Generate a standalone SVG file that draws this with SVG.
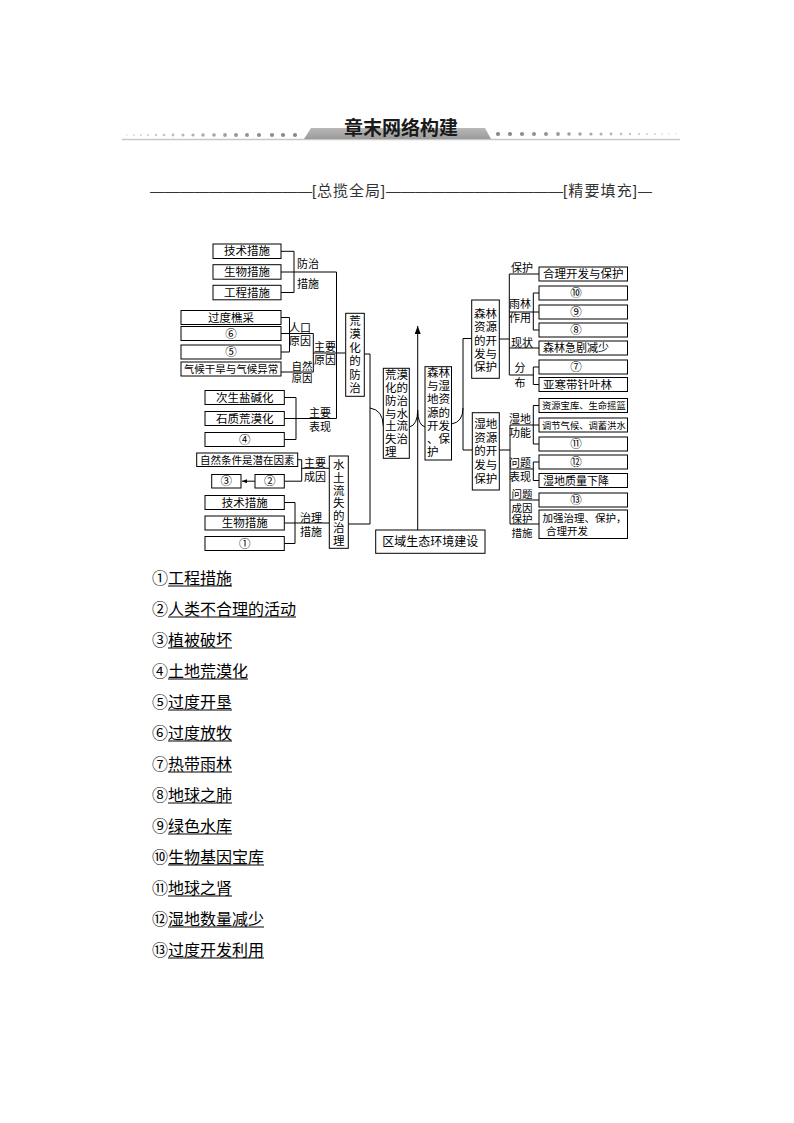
<svg xmlns="http://www.w3.org/2000/svg" width="794" height="1123" viewBox="0 0 794 1123">
<style>
.b{fill:#fff;stroke:#000;stroke-width:1}
.l{fill:none;stroke:#000;stroke-width:1}
.t{font-family:"Noto Sans CJK SC",sans-serif;font-size:11.5px;fill:#000}
.s{font-size:11px}
.k{font-size:10.5px}
.z{font-size:9.3px}
.m{text-anchor:middle}
.v{writing-mode:vertical-rl}
.a{font-family:"Noto Sans CJK SC",sans-serif;font-size:16px;fill:#000}
.u{stroke:#000;stroke-width:1}
</style>
<defs>
<linearGradient id="tab" x1="0" y1="0" x2="0" y2="1">
<stop offset="0" stop-color="#b8b8b8"/><stop offset="1" stop-color="#9a9a9a"/>
</linearGradient>
<marker id="ar" markerWidth="8" markerHeight="6" refX="8" refY="3" orient="auto" markerUnits="userSpaceOnUse"><path d="M0,0 L8,3 L0,6 z" fill="#000"/></marker>
<marker id="ar2" markerWidth="5" markerHeight="4" refX="5" refY="2" orient="auto" markerUnits="userSpaceOnUse"><path d="M0,0 L5,2 L0,4 z" fill="#000"/></marker>
</defs>
<rect width="794" height="1123" fill="#fff"/>

<g id="header">
<line x1="122" y1="139.5" x2="680" y2="139.5" stroke="#c8c8c8" stroke-width="1.5"/>
<polygon points="304,139 311,128 485,128 491,139" fill="url(#tab)"/>
<g>
<circle cx="127" cy="135" r="0.8" fill="#d8d8d8"/><circle cx="134" cy="135" r="0.9" fill="#d4d4d4"/><circle cx="141" cy="135" r="1" fill="#d0d0d0"/><circle cx="148" cy="135" r="1.1" fill="#cccccc"/><circle cx="156" cy="135" r="1.2" fill="#c8c8c8"/><circle cx="164" cy="135" r="1.3" fill="#c4c4c4"/><circle cx="173" cy="135" r="1.4" fill="#bdbdbd"/><circle cx="183" cy="135" r="1.5" fill="#b6b6b6"/><circle cx="193" cy="135" r="1.6" fill="#b0b0b0"/><circle cx="203" cy="135" r="1.7" fill="#aaaaaa"/><circle cx="214" cy="135" r="1.8" fill="#a4a4a4"/><circle cx="225" cy="135" r="1.9" fill="#9e9e9e"/><circle cx="236" cy="135" r="2" fill="#999"/><circle cx="247" cy="135" r="2" fill="#959595"/><circle cx="259" cy="135" r="2.1" fill="#919191"/><circle cx="272" cy="135" r="2.1" fill="#8d8d8d"/><circle cx="283" cy="135" r="2.1" fill="#8a8a8a"/><circle cx="295" cy="135" r="2.1" fill="#888"/>
<circle cx="498" cy="134" r="2.1" fill="#888"/><circle cx="510" cy="134" r="2.1" fill="#8a8a8a"/><circle cx="522" cy="134" r="2.1" fill="#8d8d8d"/><circle cx="534" cy="134" r="2" fill="#919191"/><circle cx="546" cy="134" r="2" fill="#959595"/><circle cx="558" cy="134" r="1.9" fill="#999"/><circle cx="569" cy="134" r="1.8" fill="#9e9e9e"/><circle cx="580" cy="134" r="1.7" fill="#a4a4a4"/><circle cx="591" cy="134" r="1.6" fill="#aaaaaa"/><circle cx="601" cy="134" r="1.5" fill="#b0b0b0"/><circle cx="611" cy="134" r="1.4" fill="#b6b6b6"/><circle cx="621" cy="134" r="1.3" fill="#bdbdbd"/><circle cx="630" cy="134" r="1.2" fill="#c4c4c4"/><circle cx="639" cy="134" r="1.1" fill="#c8c8c8"/><circle cx="647" cy="134" r="1" fill="#cccccc"/><circle cx="655" cy="134" r="0.9" fill="#d0d0d0"/><circle cx="662" cy="134" r="0.8" fill="#d4d4d4"/><circle cx="669" cy="134" r="0.8" fill="#d8d8d8"/><circle cx="676" cy="134" r="0.7" fill="#dcdcdc"/>
</g>
<text x="401" y="135" text-anchor="middle" font-family="Noto Sans CJK SC, sans-serif" font-size="19" font-weight="bold" fill="#1a1a1a">章末网络构建</text>
</g>

<g id="subtitle" font-family="Liberation Sans, Noto Sans CJK SC, sans-serif" font-size="15" fill="#333">
<text x="150" y="196" textLength="162" lengthAdjust="spacingAndGlyphs">———————————</text>
<text x="312" y="196" textLength="73">[总揽全局]</text>
<text x="386" y="196" textLength="177" lengthAdjust="spacingAndGlyphs">————————————</text>
<text x="563" y="196" textLength="74">[精要填充]</text>
<text x="638" y="196" textLength="14" lengthAdjust="spacingAndGlyphs">—</text>
</g>

<g id="connectors">
<path class="l" d="M281,251.3 H294 V292.5 H281 M281,272 H336.5 M336.5,272 V418.5"/>
<path class="l" d="M281,317.5 H289.5 V352 H281 M281,333.5 H313.3 M281,372 H313.3 M313.3,333.5 V372 M313.3,353 H345.7"/>
<path class="l" d="M284.3,397.5 H296 V439.5 H284.3 M284.3,418.5 H336.5"/>
<path class="l" d="M297.7,459.7 H301.7 V481.2 H284.3 M301.7,468.3 H329.3"/>
<path class="l" d="M255,481.2 H242" marker-end="url(#ar2)"/>
<path class="l" d="M284.3,502.5 H295 V543.5 H284.3 M284.3,523 H329.3"/>
<path class="l" d="M364.3,354 H370 V524 H348.3 M370,408 Q383,410 383.3,426"/>
<path class="l" d="M417.7,530 V326" marker-end="url(#ar)"/>
<path class="l" d="M409.3,427 Q417.7,425 417.7,410 M425,427 Q417.7,425 417.7,410"/>
<path class="l" d="M451.5,424 Q463,422 463,408 M472,338.5 H463 V450 H472"/>
<path class="l" d="M499.3,339 H509.3 M509.3,274 V375 M509.3,274 H539 M509.3,312 H539 M539,293 H533.3 V330 H539 M509.3,348 H539 M509.3,375 H533.3 M539,367 H533.3 V384.5 H539"/>
<path class="l" d="M499.3,450 H510 M510,425 V524 M510,425 H539 M539,405.5 H533.3 V444 H539 M510,469 H533.3 M539,462 H533.3 V480.5 H539 M510,500 H539 M510,524 H539"/>
<g class="t s m">
<text x="308" y="268">防治<tspan x="308" y="288">措施</tspan></text>
<text x="300" y="332">人口<tspan x="300" y="345">原因</tspan></text>
<text x="302" y="369.5" class="k">自然<tspan x="302" y="382">原因</tspan></text>
<text x="325" y="351">主要<tspan x="325" y="364">原因</tspan></text>
<text x="320" y="416.5">主要<tspan x="320" y="431">表现</tspan></text>
<text x="315" y="466.5">主要<tspan x="315" y="480.5">成因</tspan></text>
<text x="311" y="521.5">治理<tspan x="311" y="536">措施</tspan></text>
<text x="522" y="271.5">保护</text>
<text x="520" y="308">雨林<tspan x="520" y="321.5">作用</tspan></text>
<text x="522" y="346.5">现状</text>
<text class="v" x="520" y="362" style="text-anchor:start;letter-spacing:4px">分布</text>
<text x="520" y="423">湿地<tspan x="520" y="437">功能</tspan></text>
<text x="520" y="466.5">问题<tspan x="520" y="481">表现</tspan></text>
<text x="522" y="498" class="k">问题<tspan x="522" y="512">成因</tspan><tspan x="522" y="522.5">保护</tspan><tspan x="522" y="537">措施</tspan></text>
</g>
</g>

<g id="n_js1"><rect class="b" x="213" y="244" width="68" height="14.5"/><text class="t m" x="247" y="255.3">技术措施</text></g>
<g id="n_sw1"><rect class="b" x="213" y="264.7" width="68" height="14.5"/><text class="t m" x="247" y="276">生物措施</text></g>
<g id="n_gc1"><rect class="b" x="213" y="285.3" width="68" height="14.5"/><text class="t m" x="247" y="296.5">工程措施</text></g>
<g id="n_gdqc"><rect class="b" x="181" y="310.5" width="100" height="14"/><text class="t m" x="231" y="321.5">过度樵采</text></g>
<g id="n_6"><rect class="b" x="181" y="326.5" width="100" height="14"/><text class="t m" x="231" y="337.5">⑥</text></g>
<g id="n_5"><rect class="b" x="181" y="345" width="100" height="14"/><text class="t m" x="231" y="356">⑤</text></g>
<g id="n_qh"><rect class="b" x="181" y="362" width="100" height="14"/><text class="t m k" x="231" y="372.8">气候干旱与气候异常</text></g>
<g id="n_cs"><rect class="b" x="205" y="390.5" width="79.3" height="14"/><text class="t m" x="244.7" y="401.5">次生盐碱化</text></g>
<g id="n_sz"><rect class="b" x="205" y="411.5" width="79.3" height="14"/><text class="t m" x="244.7" y="422.5">石质荒漠化</text></g>
<g id="n_4"><rect class="b" x="205" y="432.5" width="79.3" height="14"/><text class="t m" x="244.7" y="443.5">④</text></g>
<g id="n_zr"><rect class="b" x="196.7" y="453" width="101" height="13.5"/><text class="t m k" x="247.2" y="463.5">自然条件是潜在因素</text></g>
<g id="n_3"><rect class="b" x="211.7" y="474.5" width="29.3" height="13.5"/><text class="t m" x="226.3" y="485.2">③</text></g>
<g id="n_2"><rect class="b" x="255" y="474.5" width="29.3" height="13.5"/><text class="t m" x="269.7" y="485.2">②</text></g>
<g id="n_js2"><rect class="b" x="205" y="495.5" width="79.3" height="14"/><text class="t m" x="244.7" y="506.5">技术措施</text></g>
<g id="n_sw2"><rect class="b" x="205" y="516" width="79.3" height="14"/><text class="t m" x="244.7" y="527">生物措施</text></g>
<g id="n_1"><rect class="b" x="205" y="536.5" width="79.3" height="14"/><text class="t m" x="244.7" y="547.5">①</text></g>

<g id="n_hmh"><rect class="b" x="345.7" y="313.3" width="18.6" height="83"/>
<text class="t v" x="355" y="314.8" style="letter-spacing:2px">荒漠化的防治</text></g>
<g id="n_stls"><rect class="b" x="329.3" y="456" width="19" height="92.3"/>
<text class="t v" x="338.8" y="459.3" style="letter-spacing:1.1px">水土流失的治理</text></g>
<g id="n_hmst"><rect class="b" x="383.3" y="368.3" width="26" height="90"/>
<text class="t" x="385" y="379">荒漠<tspan x="385" y="391.8">化的</tspan><tspan x="385" y="404.7">防治</tspan><tspan x="385" y="417.5">与水</tspan><tspan x="385" y="430.3">土流</tspan><tspan x="385" y="443.2">失治</tspan><tspan x="385" y="456">理</tspan></text></g>
<g id="n_slsd"><rect class="b" x="425" y="366.7" width="26.5" height="93.3"/>
<text class="t" x="427" y="377">森林<tspan x="427" y="390.2">与湿</tspan><tspan x="427" y="403.3">地资</tspan><tspan x="427" y="416.5">源的</tspan><tspan x="427" y="429.7">开发</tspan><tspan x="427" y="442.8">、保</tspan><tspan x="427" y="456">护</tspan></text></g>
<g id="n_qy"><rect class="b" x="375.7" y="530" width="109.3" height="23.3"/><text class="t m" x="430.3" y="546" style="font-size:12px">区域生态环境建设</text></g>
<g id="n_sl"><rect class="b" x="471.7" y="300" width="27.6" height="78.3"/>
<text class="t m" x="485.5" y="318">森林<tspan x="485.5" y="331.3">资源</tspan><tspan x="485.5" y="344.6">的开</tspan><tspan x="485.5" y="357.9">发与</tspan><tspan x="485.5" y="371.2">保护</tspan></text></g>
<g id="n_sd"><rect class="b" x="472.3" y="412.7" width="27" height="77.3"/>
<text class="t m" x="485.8" y="428">湿地<tspan x="485.8" y="441.7">资源</tspan><tspan x="485.8" y="455.4">的开</tspan><tspan x="485.8" y="469">发与</tspan><tspan x="485.8" y="482.7">保护</tspan></text></g>

<g id="n_hlkf"><rect class="b" x="539" y="267" width="88.5" height="14"/><text class="t" x="543" y="278">合理开发与保护</text></g>
<g id="n_10"><rect class="b" x="539" y="286" width="88.5" height="14"/><text class="t m" x="576" y="297">⑩</text></g>
<g id="n_9"><rect class="b" x="539" y="305" width="88.5" height="14"/><text class="t m" x="576" y="316">⑨</text></g>
<g id="n_8"><rect class="b" x="539" y="323" width="88.5" height="14"/><text class="t m" x="576" y="334">⑧</text></g>
<g id="n_sljj"><rect class="b" x="539" y="341" width="88.5" height="14"/><text class="t s" x="543" y="352">森林急剧减少</text></g>
<g id="n_7"><rect class="b" x="539" y="360" width="88.5" height="14"/><text class="t m" x="576" y="371">⑦</text></g>
<g id="n_yhd"><rect class="b" x="539" y="377.5" width="88.5" height="14"/><text class="t" x="543" y="388.5">亚寒带针叶林</text></g>
<g id="n_zybk"><rect class="b" x="539" y="398.5" width="88.5" height="14"/><text class="t z" x="542" y="409">资源宝库、生命摇篮</text></g>
<g id="n_tjqh"><rect class="b" x="539" y="418" width="88.5" height="14"/><text class="t z" x="542" y="428.5">调节气候、调蓄洪水</text></g>
<g id="n_11"><rect class="b" x="539" y="437" width="88.5" height="14"/><text class="t m" x="576" y="448">⑪</text></g>
<g id="n_12"><rect class="b" x="539" y="455" width="88.5" height="14"/><text class="t m" x="576" y="466">⑫</text></g>
<g id="n_sdzl"><rect class="b" x="539" y="473.5" width="88.5" height="14"/><text class="t s" x="543" y="484.5">湿地质量下降</text></g>
<g id="n_13"><rect class="b" x="539" y="493" width="88.5" height="14"/><text class="t m" x="576" y="504">⑬</text></g>
<g id="n_jq"><rect class="b" x="539" y="510" width="88.5" height="28.5"/><text class="t k" x="542.5" y="521.5">加强治理、保护，<tspan x="546" y="535">合理开发</tspan></text></g>

<g id="answers">
<text class="a" x="152" y="584">①<tspan x="168">工程措施</tspan></text><line class="u" x1="168" y1="586" x2="232" y2="586"/>
<text class="a" x="152" y="615">②<tspan x="168">人类不合理的活动</tspan></text><line class="u" x1="168" y1="617" x2="296" y2="617"/>
<text class="a" x="152" y="646">③<tspan x="168">植被破坏</tspan></text><line class="u" x1="168" y1="648" x2="232" y2="648"/>
<text class="a" x="152" y="677">④<tspan x="168">土地荒漠化</tspan></text><line class="u" x1="168" y1="679" x2="248" y2="679"/>
<text class="a" x="152" y="708">⑤<tspan x="168">过度开垦</tspan></text><line class="u" x1="168" y1="710" x2="232" y2="710"/>
<text class="a" x="152" y="739">⑥<tspan x="168">过度放牧</tspan></text><line class="u" x1="168" y1="741" x2="232" y2="741"/>
<text class="a" x="152" y="770">⑦<tspan x="168">热带雨林</tspan></text><line class="u" x1="168" y1="772" x2="232" y2="772"/>
<text class="a" x="152" y="801">⑧<tspan x="168">地球之肺</tspan></text><line class="u" x1="168" y1="803" x2="232" y2="803"/>
<text class="a" x="152" y="832">⑨<tspan x="168">绿色水库</tspan></text><line class="u" x1="168" y1="834" x2="232" y2="834"/>
<text class="a" x="152" y="863">⑩<tspan x="168">生物基因宝库</tspan></text><line class="u" x1="168" y1="865" x2="264" y2="865"/>
<text class="a" x="152" y="894">⑪<tspan x="168">地球之肾</tspan></text><line class="u" x1="168" y1="896" x2="232" y2="896"/>
<text class="a" x="152" y="925">⑫<tspan x="168">湿地数量减少</tspan></text><line class="u" x1="168" y1="927" x2="264" y2="927"/>
<text class="a" x="152" y="956">⑬<tspan x="168">过度开发利用</tspan></text><line class="u" x1="168" y1="958" x2="264" y2="958"/>
</g>
</svg>
